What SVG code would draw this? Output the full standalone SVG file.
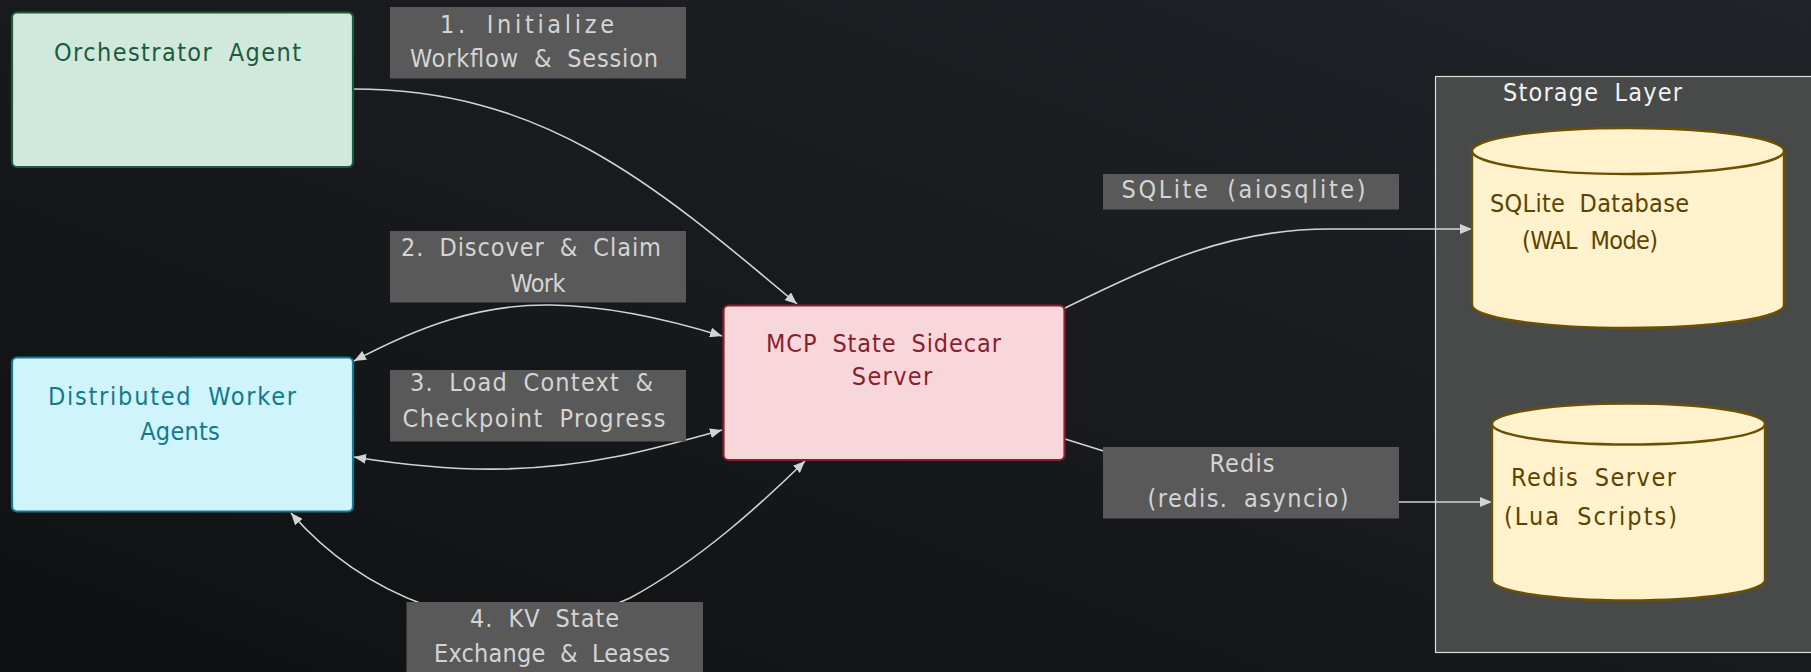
<svg xmlns="http://www.w3.org/2000/svg" width="1811" height="672" viewBox="0 0 1811 672">
<style>
text{font-family:'DejaVu Sans Condensed','DejaVu Sans',sans-serif;font-stretch:condensed;font-size:25px;word-spacing:7px;text-anchor:middle}
.lbl rect{fill:#595959}
.lbl text{fill:#d4d4d4}
.edge{fill:none;stroke:#d3d3d3;stroke-width:1.6}
.cyl{fill:#fff2cc;stroke:#6b5000;stroke-width:2.4}
.cyltxt{fill:#5c4400}
</style>
<defs>
<linearGradient id="bg" x1="1" y1="0" x2="0" y2="1">
<stop offset="0" stop-color="#222328"/>
<stop offset="1" stop-color="#0f1012"/>
</linearGradient>
<marker id="arr" markerUnits="userSpaceOnUse" markerWidth="13" markerHeight="10" refX="12" refY="5" orient="auto-start-reverse">
<path d="M0,0 L12,5 L0,10 z" fill="#d3d3d3"/>
</marker>
</defs>
<rect x="0" y="0" width="1811" height="672" fill="url(#bg)"/>

<g id="storage-layer">
<rect x="1435.5" y="76.5" width="390" height="576" fill="#484a4a" stroke="#dcdcdc" stroke-width="1.2"/>
<text x="1592.5" y="101" fill="#f2f2f2" textLength="179" lengthAdjust="spacing">Storage Layer</text>
</g>

<g id="connectors">
<path class="edge" d="M353,89 C540,89 650,180 797,304" marker-end="url(#arr)"/>
<path class="edge" d="M354,361 C420,326 480,304 551,305 C610,306 670,320 722,336" marker-start="url(#arr)" marker-end="url(#arr)"/>
<path class="edge" d="M354,457 C410,466 460,470 505,469 C590,467 650,450 722,430" marker-start="url(#arr)" marker-end="url(#arr)"/>
<path class="edge" d="M291,513 C325,552 370,585 425,605 C480,625 560,630 630,598 C700,560 760,505 805,461" marker-start="url(#arr)" marker-end="url(#arr)"/>
<path class="edge" d="M1065,308 C1160,262 1230,229 1330,229 L1472,229" marker-end="url(#arr)"/>
<path class="edge" d="M1065,439 L1110,453 C1200,480 1300,502 1399,502 L1492,502" marker-end="url(#arr)"/>
</g>

<g id="label-1" class="lbl">
<rect x="390" y="7" width="296" height="71.5"/>
<text x="527" y="32.5" textLength="174" lengthAdjust="spacing">1. Initialize</text>
<text x="534" y="66.5" textLength="248" lengthAdjust="spacing">Workflow &amp; Session</text>
</g>
<g id="label-2" class="lbl">
<rect x="390" y="231" width="296" height="71.5"/>
<text x="531" y="256" textLength="260" lengthAdjust="spacing">2. Discover &amp; Claim</text>
<text x="538" y="291.5" textLength="55" lengthAdjust="spacing">Work</text>
</g>
<g id="label-3" class="lbl">
<rect x="390" y="370" width="296" height="71.5"/>
<text x="531.5" y="391" textLength="243" lengthAdjust="spacing">3. Load Context &amp;</text>
<text x="534" y="426.5" textLength="263" lengthAdjust="spacing">Checkpoint Progress</text>
</g>
<g id="label-4" class="lbl">
<rect x="406.5" y="602" width="296.5" height="80"/>
<text x="544.5" y="626.5" textLength="149" lengthAdjust="spacing">4. KV State</text>
<text x="552" y="661.5" textLength="236" lengthAdjust="spacing">Exchange &amp; Leases</text>
</g>
<g id="label-sqlite" class="lbl">
<rect x="1103" y="174" width="296" height="35.5"/>
<text x="1243.5" y="198" textLength="244" lengthAdjust="spacing">SQLite (aiosqlite)</text>
</g>
<g id="label-redis" class="lbl">
<rect x="1103" y="447" width="296" height="71.5"/>
<text x="1242" y="471.5" textLength="65" lengthAdjust="spacing">Redis</text>
<text x="1248" y="507" textLength="201" lengthAdjust="spacing">(redis. asyncio)</text>
</g>

<g id="orchestrator">
<rect x="12" y="12.5" width="341" height="154.5" rx="5" fill="#d1e8dd" stroke="#1a5c3c" stroke-width="2.2"/>
<text x="177.5" y="60.5" fill="#1a5c3c" textLength="247" lengthAdjust="spacing">Orchestrator Agent</text>
</g>

<g id="workers">
<rect x="12" y="357.5" width="341" height="154" rx="5" fill="#cff4fc" stroke="#13798f" stroke-width="2.2"/>
<text x="172" y="405" fill="#13798f" textLength="248" lengthAdjust="spacing">Distributed Worker</text>
<text x="180" y="440" fill="#13798f" textLength="79.5" lengthAdjust="spacing">Agents</text>
</g>

<g id="mcp-server">
<rect x="723.5" y="305.5" width="341" height="154.5" rx="5" fill="#f8d7da" stroke="#8b1e2e" stroke-width="2.2"/>
<text x="883.5" y="351.5" fill="#8b1e2e" textLength="235" lengthAdjust="spacing">MCP State Sidecar</text>
<text x="892" y="385" fill="#8b1e2e" textLength="80.5" lengthAdjust="spacing">Server</text>
</g>

<g id="sqlite-db">
<path class="cyl" d="M1472,151 A156,23 0 0 1 1784,151 L1784,305 A156,23 0 0 1 1472,305 Z"/>
<path class="cyl" fill="none" d="M1472,151 A156,23 0 0 0 1784,151"/>
<text class="cyltxt" x="1589.5" y="212" textLength="199" lengthAdjust="spacing">SQLite Database</text>
<text class="cyltxt" x="1590" y="249" textLength="136" lengthAdjust="spacing">(WAL Mode)</text>
</g>

<g id="redis-server">
<path class="cyl" d="M1492,424 A136.5,20.5 0 0 1 1765,424 L1765,580 A136.5,20.5 0 0 1 1492,580 Z"/>
<path class="cyl" fill="none" d="M1492,424 A136.5,20.5 0 0 0 1765,424"/>
<text class="cyltxt" x="1593.5" y="486" textLength="165" lengthAdjust="spacing">Redis Server</text>
<text class="cyltxt" x="1590.5" y="524.5" textLength="173" lengthAdjust="spacing">(Lua Scripts)</text>
</g>
</svg>
